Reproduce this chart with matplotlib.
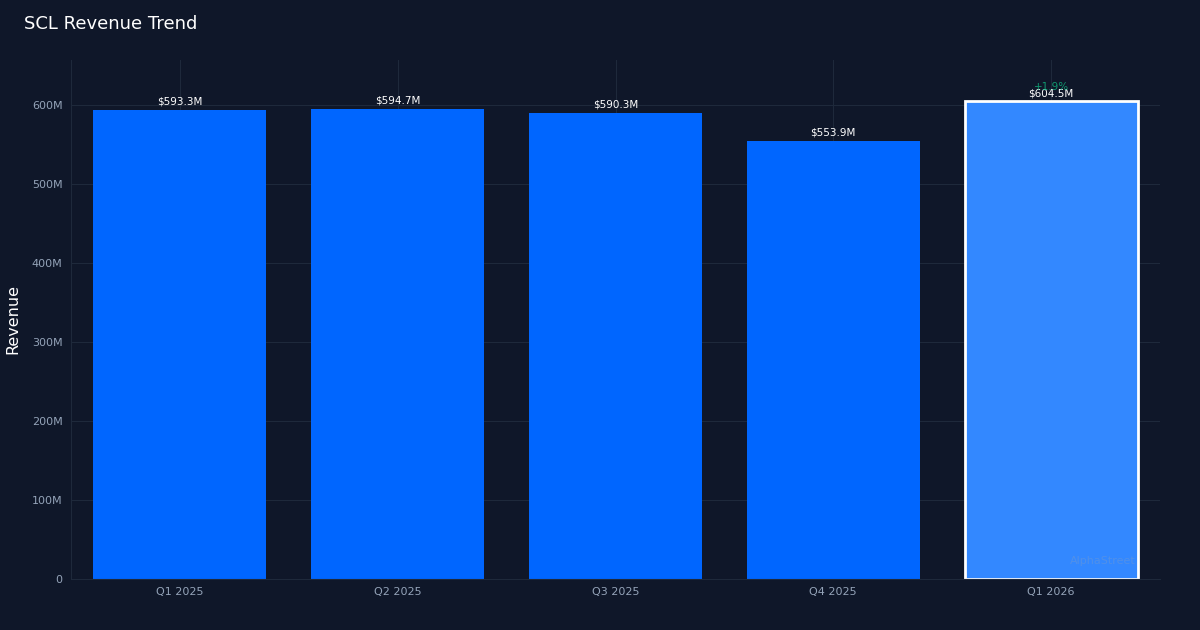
import matplotlib
matplotlib.use("Agg")
import matplotlib.pyplot as plt

quarters = ["Q1 2025", "Q2 2025", "Q3 2025", "Q4 2025", "Q1 2026"]
revenue_m = [593.3, 594.7, 590.3, 553.9, 604.5]
change_label = "+1.9%"
yticks_m = [0, 100, 200, 300, 400, 500, 600]
ytick_labels = ["0", "100M", "200M", "300M", "400M", "500M", "600M"]

BG = "#0f1729"
fig = plt.figure(figsize=(12, 6.3), dpi=100, facecolor=BG)
ax = fig.add_axes([71/1200, 1-579/630, (1160-71)/1200, (579-60)/630])
ax.set_facecolor(BG)

x = list(range(len(quarters)))
colors = ["#0066ff"] * 4 + ["#3388ff"]
bars = ax.bar(x, revenue_m, width=0.795, color=colors, zorder=2)
bars[-1].set_edgecolor("white")
bars[-1].set_linewidth(2)

for xi, v in zip(x, revenue_m):
    ax.annotate(f"${v:.1f}M", (xi, v), xytext=(0, 2.5), textcoords="offset points",
                ha="center", va="bottom", color="white", fontsize=7.5, zorder=3)
ax.annotate(change_label, (x[-1], revenue_m[-1]), xytext=(0, 6.5), textcoords="offset points",
            ha="center", va="bottom", color="#10b981", alpha=0.8, fontsize=7.5, zorder=3)

ax.set_xlim(-0.5, len(quarters) - 0.5)
ax.set_ylim(0, 657)
ax.set_yticks(yticks_m)
ax.set_yticklabels(ytick_labels)
ax.set_xticks(x)
ax.set_xticklabels(quarters)
ax.tick_params(colors="#94a3b8", labelsize=8, length=0, pad=6)
ax.grid(True, color="#1e293b", linewidth=0.8, zorder=0)
for s in ["top", "right"]:
    ax.spines[s].set_visible(False)
for s in ["left", "bottom"]:
    ax.spines[s].set_color("#1e293b")

fig.text(13/1200, 1-319/630, "Revenue", color="white", fontsize=11.5, rotation=90,
         ha="center", va="center")
fig.text(24/1200, 1-24/630, "SCL Revenue Trend", color="white", fontsize=13, va="center", ha="left")
ax.text((1136-71)/1089, 0.035, "AlphaStreet", transform=ax.transAxes, ha="right", va="center",
        color="#94a3b8", alpha=0.3, fontsize=8, zorder=4)

fig.savefig("out.png", dpi=100, facecolor=BG)
